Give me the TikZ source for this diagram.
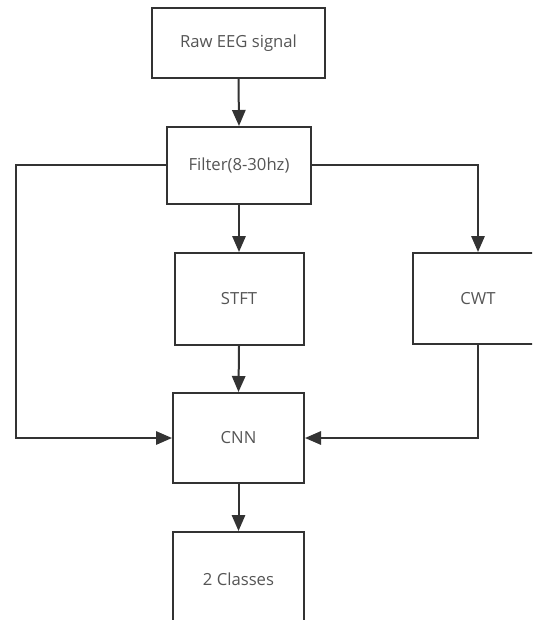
\documentclass[tikz,border=0pt]{standalone}
\usepackage{fontspec}
\setmainfont{Open Sans}
\usetikzlibrary{arrows.meta}
\definecolor{lineC}{HTML}{333333}
\definecolor{textC}{HTML}{555555}
\tikzset{
  box/.style={draw=lineC, line width=1.5pt, fill=white, inner sep=0pt, text=textC, font=\fontsize{12.5pt}{14pt}\selectfont},
  conn/.style={draw=lineC, line width=1.5pt, -{Triangle[length=12pt,width=10pt]}},
}
\begin{document}
\begin{tikzpicture}[x=0.75pt,y=-0.75pt]
\useasboundingbox (0,0) rectangle (532,620);
\clip (0,0) rectangle (532,620);
\node[box, minimum width=173*0.75pt, minimum height=70*0.75pt] (raw) at (238.5,43) {Raw EEG signal};
\node[box, minimum width=144*0.75pt, minimum height=77*0.75pt] (filt) at (239,165.5) {Filter(8-30hz)};
\node[box, minimum width=129*0.75pt, minimum height=92*0.75pt] (stft) at (239,299) {STFT};
\node[box, minimum width=130*0.75pt, minimum height=91*0.75pt] (cwt) at (478,298.5) {CWT};
\node[box, minimum width=131*0.75pt, minimum height=90*0.75pt] (cnn) at (238.5,438) {CNN};
\node[box, minimum width=131*0.75pt, minimum height=94*0.75pt] (cls) at (238.5,579) {2 Classes};
\coordinate (lt) at (16,165.5);
\coordinate (lb) at (16,438);
\coordinate (rt) at (478,165.5);
\coordinate (rb) at (478,438);
\draw[conn] (raw.south) -- (filt.north);
\draw[conn] (filt.south) -- (stft.north);
\draw[conn] (stft.south) -- (cnn.north);
\draw[conn] (cnn.south) -- (cls.north);
\draw[conn] (filt.west) -- (lt) -- (lb) -- (cnn.west);
\draw[conn] (filt.east) -- (rt) -- (cwt.north);
\draw[conn] (cwt.south) -- (rb) -- (cnn.east);
\end{tikzpicture}
\end{document}
